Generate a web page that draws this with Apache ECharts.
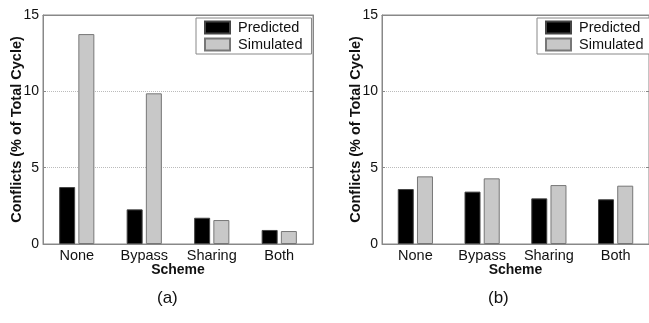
<!DOCTYPE html>
<html>
<head>
<meta charset="utf-8">
<script src="https://cdn.jsdelivr.net/npm/echarts@6/dist/echarts.min.js"></script>
<style>
  html, body { margin: 0; padding: 0; background: #fff; }
  #chart { width: 649px; height: 323px; }
</style>
</head>
<body>
<div id="chart"></div>
<script>
// data
var categories = ["None", "Bypass", "Sharing", "Both"];
var predictedA = [3.73, 2.27, 1.72, 0.92];
var simulatedA = [13.75, 9.87, 1.57, 0.85];
var predictedB = [3.6, 3.43, 2.99, 2.93];
var simulatedB = [4.43, 4.3, 3.86, 3.82];
var yMin = 0, yMax = 15, yStep = 5;
var panelLabels = ["(a)", "(b)"];

var font = "Liberation Sans, Arial, Helvetica, sans-serif";
var axisGray = "#888";

function xAxes(gridIndex) {
  return [
    {
      type: "category",
      gridIndex: gridIndex,
      data: categories,
      position: "bottom",
      name: "Scheme",
      nameLocation: "middle",
      nameGap: 19,
      nameMoveOverlap: false,
      nameTextStyle: { fontFamily: font, fontSize: 14, fontWeight: "bold", color: "#111" },
      axisLine: { onZero: false, lineStyle: { color: axisGray } },
      axisTick: { inside: true, length: 3, alignWithLabel: true, lineStyle: { color: axisGray } },
      axisLabel: { fontFamily: font, fontSize: 14.5, color: "#111", margin: 4 },
    },
    {
      // mirrored ticks on the top edge
      type: "category",
      gridIndex: gridIndex,
      data: categories,
      position: "top",
      axisLine: { onZero: false, lineStyle: { color: axisGray } },
      axisTick: { inside: true, length: 3, alignWithLabel: true, lineStyle: { color: axisGray } },
      axisLabel: { show: false },
    },
  ];
}

function yAxes(gridIndex) {
  return [
    {
      type: "value",
      gridIndex: gridIndex,
      min: yMin,
      max: yMax,
      interval: yStep,
      position: "left",
      name: "Conflicts (% of Total Cycle)",
      nameLocation: "middle",
      nameGap: 19,
      nameMoveOverlap: false,
      nameTextStyle: { fontFamily: font, fontSize: 14.5, fontWeight: "bold", color: "#111" },
      axisLine: { show: true, onZero: false, lineStyle: { color: axisGray } },
      axisTick: { show: true, inside: true, length: 3, lineStyle: { color: axisGray } },
      axisLabel: { fontFamily: font, fontSize: 14, color: "#111", margin: 4 },
      splitLine: { show: true, lineStyle: { color: "#bbb", type: "dotted" } },
    },
    {
      type: "value",
      gridIndex: gridIndex,
      min: yMin,
      max: yMax,
      interval: yStep,
      position: "right",
      axisLine: { show: true, onZero: false, lineStyle: { color: axisGray } },
      axisTick: { show: true, inside: true, length: 3, lineStyle: { color: axisGray } },
      axisLabel: { show: false },
      splitLine: { show: false },
    },
  ];
}

function barSeries(name, data, idx, color, border) {
  return {
    name: name,
    type: "bar",
    xAxisIndex: idx * 2,
    yAxisIndex: idx * 2,
    data: data,
    barWidth: 16,
    barGap: "20%",
    itemStyle: { color: color, borderColor: border, borderWidth: 1 },
  };
}

function legend(left) {
  return {
    left: left,
    top: 18,
    orient: "vertical",
    data: ["Predicted", "Simulated"],
    icon: "rect",
    itemWidth: 25,
    itemHeight: 12,
    itemGap: 2,
    padding: [2, 9, 2, 8],
    borderColor: axisGray,
    borderWidth: 1,
    borderRadius: 0,
    backgroundColor: "#fff",
    textStyle: { fontFamily: font, fontSize: 14.5, color: "#111", padding: [0, 0, 0, 3] },
  };
}

var chart = echarts.init(document.getElementById("chart"));
chart.setOption({
  animation: false,
  backgroundColor: "#fff",
  grid: [
    { left: 43, top: 15, width: 270, height: 229, show: true, borderColor: axisGray, borderWidth: 1 },
    { left: 382, top: 15, width: 270, height: 229, show: true, borderColor: axisGray, borderWidth: 1 },
  ],
  xAxis: xAxes(0).concat(xAxes(1)),
  yAxis: yAxes(0).concat(yAxes(1)),
  legend: [legend(196), legend(537)],
  series: [
    barSeries("Predicted", predictedA, 0, "#000", "#444"),
    barSeries("Simulated", simulatedA, 0, "#c8c8c8", "#777"),
    barSeries("Predicted", predictedB, 1, "#000", "#444"),
    barSeries("Simulated", simulatedB, 1, "#c8c8c8", "#777"),
  ],
  graphic: [
    {
      type: "text",
      left: 157,
      top: 290,
      style: { text: panelLabels[0], font: "17px " + font, fill: "#111" },
    },
    {
      type: "text",
      left: 488,
      top: 290,
      style: { text: panelLabels[1], font: "17px " + font, fill: "#111" },
    },
  ],
});
</script>
</body>
</html>
